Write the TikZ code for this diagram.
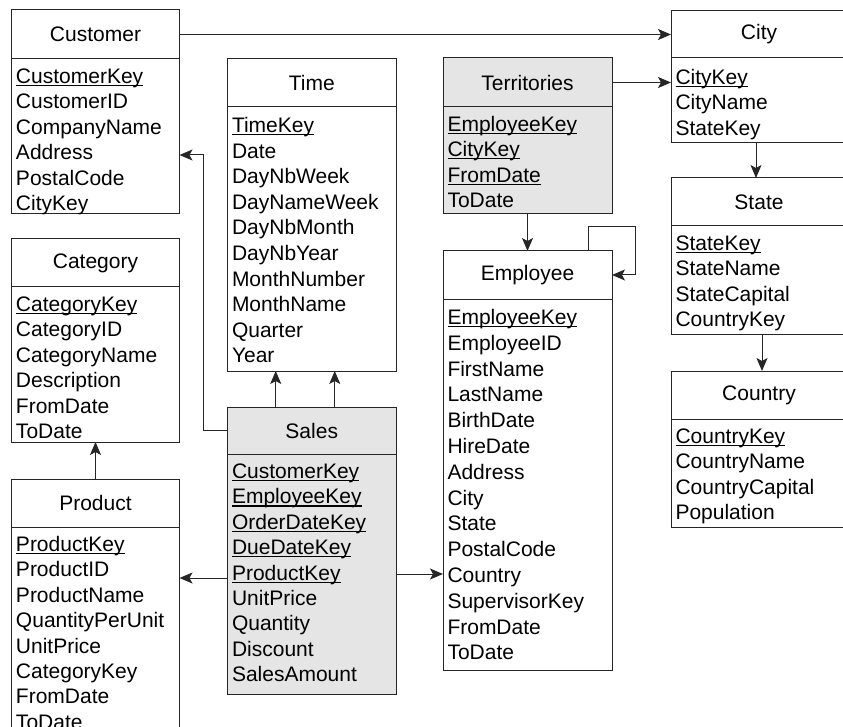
\documentclass[tikz,border=0pt]{standalone}
\usepackage{fontspec}
\setmainfont{Liberation Sans}
\usetikzlibrary{calc,arrows.meta}

% primary-key attribute: underlined name
\newcommand\pk[1]{\setbox0\hbox{#1}\rlap{\rule[-2.6pt]{\wd0}{1.1pt}}\copy0}

\tikzset{
  boxline/.style={draw=black!85, line width=1pt},
  hdrbox/.style={boxline, rectangle, inner sep=0pt, outer sep=0pt,
    font=\fontsize{21}{25}\selectfont},
  bodybox/.style={boxline, rectangle, inner sep=0pt, outer sep=0pt},
  attr/.style={inner sep=0pt, outer sep=0pt, font=\fontsize{21}{25}\selectfont},
  conn/.style={draw=black!85, line width=1pt,
    -{Stealth[length=13pt,width=11pt,inset=3pt]}},
}

% first baseline below the title bar, and distance between attribute lines
\def\firstbase{24.5}
\def\rowpitch{25.4}

% \entity{id}{left}{top}{header bottom}{bottom}{width}{title}{attributes}{fill}
\newcommand\entity[9]{%
  \node[hdrbox, fill=#9, minimum width=#6, minimum height={#4-#3},
        anchor=north west] (#1h) at (#2,#3) {#7};
  \node[bodybox, fill=#9, minimum width=#6, minimum height={#5-#4},
        anchor=north west] (#1b) at (#2,#4) {};
  \foreach \t [count=\i] in {#8}
    \node[attr, anchor=base west] (#1r\i)
      at ($(#1b.north west)+(4.5,{\firstbase+\rowpitch*(\i-1)})$) {\t};
}

\begin{document}
\begin{tikzpicture}[x=1pt, y=-1pt]
\useasboundingbox (0,0) rectangle (843,727);

% dimension tables
\entity{cust}{11.5}{10}{59}{214}{168}{Customer}
  {\pk{CustomerKey},CustomerID,CompanyName,Address,PostalCode,CityKey}{white}
\entity{cat}{11.5}{239}{287}{442}{168}{Category}
  {\pk{CategoryKey},CategoryID,CategoryName,Description,FromDate,ToDate}{white}
\entity{prod}{11.5}{479}{527}{760}{168}{Product}
  {\pk{ProductKey},ProductID,ProductName,QuantityPerUnit,UnitPrice,CategoryKey,FromDate,ToDate}{white}
\entity{state}{671}{178}{226}{334}{176}{State}
  {\pk{StateKey},StateName,StateCapital,CountryKey}{white}
\entity{ctry}{671}{371}{419}{527}{176}{Country}
  {\pk{CountryKey},CountryName,CountryCapital,Population}{white}

\def\firstbase{25.5}\def\rowpitch{25.6}
\entity{time}{227.5}{59}{107}{371}{168.5}{Time}
  {\pk{TimeKey},Date,DayNbWeek,DayNameWeek,DayNbMonth,DayNbYear,MonthNumber,MonthName,Quarter,Year}{white}

\def\firstbase{25.5}\def\rowpitch{25.8}
\entity{emp}{443}{251}{299}{670}{169}{Employee}
  {\pk{EmployeeKey},EmployeeID,FirstName,LastName,BirthDate,HireDate,Address,City,State,PostalCode,Country,SupervisorKey,FromDate,ToDate}{white}

\def\firstbase{26.5}\def\rowpitch{25.4}
\entity{city}{671}{11}{58}{143}{176}{City}
  {\pk{CityKey},CityName,StateKey}{white}

% fact and bridge tables
\def\firstbase{24.5}\def\rowpitch{25.4}
\entity{sales}{227.5}{407}{454}{694}{168.5}{Sales}
  {\pk{CustomerKey},\pk{EmployeeKey},\pk{OrderDateKey},\pk{DueDateKey},\pk{ProductKey},UnitPrice,Quantity,Discount,SalesAmount}{gray!20}
\entity{terr}{443}{58}{107}{214}{169}{Territories}
  {\pk{EmployeeKey},\pk{CityKey},\pk{FromDate},ToDate}{gray!20}

% relationships
\draw[conn] (custh.east) -- (cityh.west);
\draw[conn] (terrh.east) -- (terrh.east -| cityb.west);
\draw[conn] ([xshift=-3pt]cityb.south) -- ([xshift=-3pt]stateh.north);
\draw[conn] ([xshift=3pt]stateb.south) -- ([xshift=3pt]ctryh.north);
\draw[conn] (terrb.south) -- (emph.north);
\draw[conn] ([xshift=60.5pt]emph.north) -- ++(0,-24) -| ([xshift=23pt]emph.east) -- (emph.east);
\draw[conn] ([xshift=-36pt]salesh.north) -- ([xshift=-36pt]timeb.south);
\draw[conn] ([xshift=23pt]salesh.north) -- ([xshift=23pt]timeb.south);
\draw[conn] (salesh.west) -- ++(-24.5,0) |- ([yshift=-18.5pt]custb.east);
\draw[conn] ([yshift=-4pt]salesb.west) -- ([yshift=-4pt]salesb.west -| prodb.east);
\draw[conn] (salesb.east) -- (salesb.east -| empb.west);
\draw[conn] (prodh.north) -- (catb.south);
\end{tikzpicture}
\end{document}
